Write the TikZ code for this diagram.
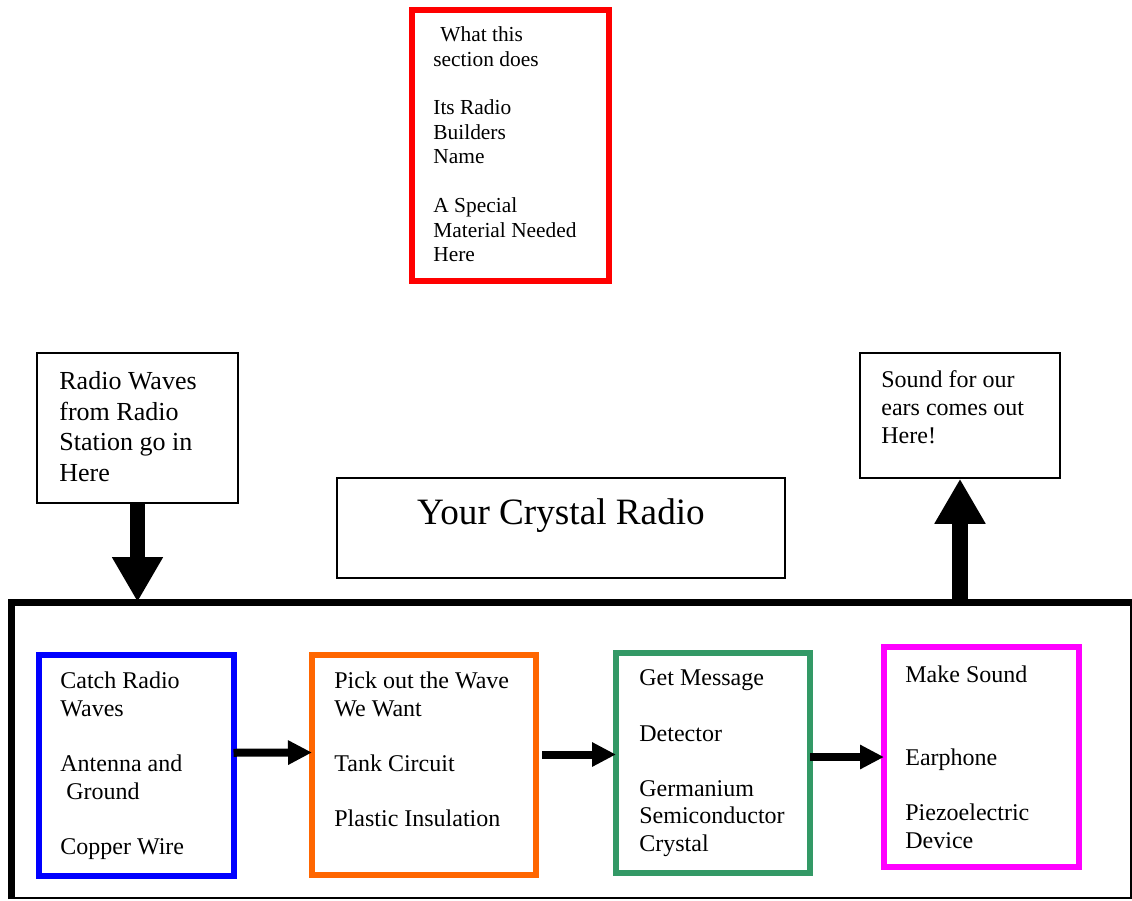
\documentclass[tikz,border=0pt]{standalone}
\usepackage{fontspec}
\setmainfont{Liberation Serif}
\usetikzlibrary{arrows.meta}
\begin{document}
\begin{tikzpicture}[x=0.5pt,y=-0.5pt]
% Page frame
\useasboundingbox (0,0) rectangle (1132,901);

\tikzstyle{box} = [draw, shape=rectangle, inner sep=0pt, line width=0.75pt]
\tikzstyle{cbox} = [draw, shape=rectangle, inner sep=0pt, outer sep=0pt, line width=3pt]
\tikzstyle{txt} = [anchor=north west, inner sep=0pt, align=left, font=\fontsize{12}{13.8}\selectfont]
\tikzstyle{flow} = [line width=4pt, -{Triangle[length=12pt,width=11.5pt]}]
\tikzstyle{bigflow} = [line width=7.75pt, -{Triangle[length=22.5pt,width=24pt]}]

% key box
\node at (510,145)[cbox, draw=red, minimum width=98.5pt, minimum height=135.5pt](legend){};
\node at (433,26.4)[txt, font=\fontsize{10.7}{12.22}\selectfont](legendtxt){\hspace*{3.5pt}What this\\section does\\ \\Its Radio\\Builders\\Name\\ \\A Special\\Material Needed\\Here};

\node at (137.5,428)[box, minimum width=100.5pt, minimum height=75pt](wavesin){};
\node at (59,371.2)[txt, font=\fontsize{13}{15.33}\selectfont](wavesintxt){Radio Waves\\from Radio\\Station go in\\Here};

\node at (960,415.5)[box, minimum width=100pt, minimum height=62.5pt](soundout){};
\node at (881,370.6)[txt, font=\fontsize{12}{14}\selectfont](soundouttxt){Sound for our\\ears comes out\\Here!};

\node at (561,528)[box, minimum width=224pt, minimum height=50pt](title){};
\node at (561,524)[anchor=base, inner sep=0pt, font=\fontsize{18.6}{21}\selectfont](titletxt){Your Crystal Radio};

% the radio
\node at (571.5,750.5)[box, line width=1pt, minimum width=559pt, minimum height=147.5pt](radio){};
\draw[line width=3.5pt] (radio.south west) -- (radio.north west) -- (radio.north east);

\node at (136,765.25)[cbox, draw={rgb,255:red,0;green,0;blue,255}, minimum width=97.5pt, minimum height=110.25pt](antenna){};
\node at (60,671.6)[txt](antennatxt){Catch Radio\\Waves\\ \\Antenna and\\\hspace*{3pt}Ground\\ \\Copper Wire};

\node at (424,765)[cbox, draw={rgb,255:red,255;green,102;blue,0}, minimum width=112pt, minimum height=110pt](tank){};
\node at (334,671.6)[txt](tanktxt){Pick out the Wave\\We Want\\ \\Tank Circuit\\ \\Plastic Insulation};

\node at (713,763)[cbox, draw={rgb,255:red,51;green,153;blue,102}, minimum width=97pt, minimum height=110pt](detector){};
\node at (639,669.6)[txt](detectortxt){Get Message\\ \\Detector\\ \\Germanium\\Semiconductor\\Crystal};

\node at (981.25,757)[cbox, draw={rgb,255:red,255;green,0;blue,255}, minimum width=97.25pt, minimum height=110pt](earphone){};
\node at (905,665.6)[txt](earphonetxt){Make Sound\\ \\ \\Earphone\\ \\Piezoelectric\\Device};

% arrows
\draw[bigflow] (wavesin.south) -- (wavesin.south |- radio.north);
\draw[bigflow] (soundout.south |- radio.north) -- (soundout.south);

\draw[flow] ([yshift=6.25pt]antenna.east) -- ([yshift=6.25pt]tank.west);
\draw[flow] ([shift={(3pt,5.25pt)}]tank.east) -- ([yshift=4.25pt]detector.west);
\draw[flow] (detector.east |- earphone.west) -- (earphone.west);

\end{tikzpicture}
\end{document}
